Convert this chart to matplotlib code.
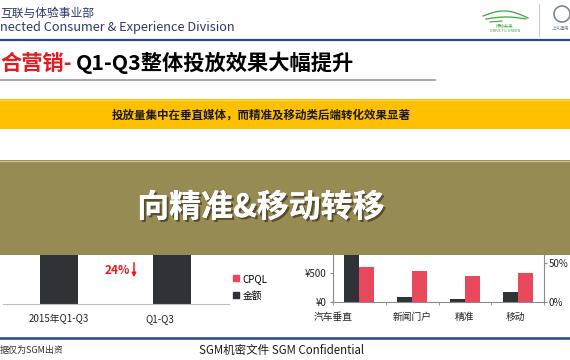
import numpy as np
import matplotlib
matplotlib.use("Agg")
import matplotlib.pyplot as plt
from matplotlib import patheffects as pe
from matplotlib.patches import Rectangle, Patch, Arc
from matplotlib.transforms import ScaledTranslation

plt.rcParams["font.family"] = ["Noto Sans CJK SC", "DejaVu Sans"]

# left chart: 2015 vs 2016 spend
cats_left = ["2015年Q1-Q3", "Q1-Q3"]
amount_left = [100, 76]

# right chart: by media type
cats_right = ["汽车垂直", "新闻门户", "精准", "移动"]
amount_right = [1100, 80, 55, 170]      # 金额, yuan
cpql_right = [45, 40, 33, 37]           # CPQL share, %

BLACK = "#2f3236"
PINK = "#e9475c"
RED = "#e8191e"
NAVY = "#2b3a6e"
BLUE_LINE = "#27478a"
OLIVE = "#968b53"
YELLOW = "#ffc000"
W, H = 570, 360


def px(x0, y0, x1, y1):
    return [x0 / W, 1 - y1 / H, (x1 - x0) / W, (y1 - y0) / H]


fig = plt.figure(figsize=(5.7, 3.6), dpi=100, facecolor="white")

# ---- left chart
ax1 = fig.add_axes(px(2.5, 200, 228.5, 304))
x1 = np.arange(len(cats_left))
ax1.bar(x1, amount_left, width=0.336, color=BLACK)
ax1.set_xlim(-0.5, len(cats_left) - 0.5)
ax1.set_ylim(0, 100)
ax1.set_facecolor("none")
for s in ["top", "left", "right"]:
    ax1.spines[s].set_visible(False)
ax1.spines["bottom"].set_color("#bdbdbd")
ax1.set_yticks([])
ax1.set_xticks(x1)
ax1.set_xticklabels(cats_left, fontsize=7, color="#222222")
ax1.tick_params(axis="x", length=0, pad=7)
lbl = ax1.get_xticklabels()[1]
lbl.set_transform(lbl.get_transform() + ScaledTranslation(-12 / 100, 0, fig.dpi_scale_trans))

# ---- right chart
ax2 = fig.add_axes(px(333, 225, 544, 302))
x2 = np.arange(len(cats_right))
bw = 0.285
ax2.bar(x2 - bw / 2, amount_right, width=bw, color=BLACK)
ax2.set_xlim(-0.5, len(cats_right) - 0.5)
ax2.set_ylim(0, 77 / 29 * 500)
ax2.set_yticks([0, 500, 1000])
ax2.set_yticklabels(["¥0", "¥500", "¥1000"], fontsize=7, color="#222222")
ax2.set_xticks(x2)
ax2.set_xticklabels(cats_right, fontsize=7, color="#222222")
ax2.set_xticks(np.arange(-0.5, len(cats_right), 1), minor=True)
ax2.tick_params(axis="x", which="major", length=0, pad=7)
ax2.tick_params(axis="x", which="minor", length=2.5, color="#888888")
ax2.tick_params(axis="y", length=2.5, pad=2, color="#888888")
for s in ["top", "right"]:
    ax2.spines[s].set_visible(False)
for s in ["left", "bottom"]:
    ax2.spines[s].set_color("#8a8a8a")
lbl = ax2.get_xticklabels()[0]
lbl.set_transform(lbl.get_transform() + ScaledTranslation(-26 / 100, 0, fig.dpi_scale_trans))
lbl = ax2.get_xticklabels()[3]
lbl.set_transform(lbl.get_transform() + ScaledTranslation(-2 / 100, 0, fig.dpi_scale_trans))

ax3 = ax2.twinx()
ax3.bar(x2 + bw / 2, cpql_right, width=bw, color=PINK)
ax3.set_ylim(0, 77 / 39 * 50)
ax3.set_yticks([0, 50])
ax3.set_yticklabels(["0%", "50%"], fontsize=7, color="#222222")
ax3.tick_params(axis="y", length=2.5, pad=1, color="#888888")
for s in ["top", "left", "bottom"]:
    ax3.spines[s].set_visible(False)
ax3.spines["right"].set_color("#8a8a8a")

fig.legend(
    [Patch(color=PINK), Patch(color=BLACK)],
    ["CPQL", "金额"],
    loc="center left",
    bbox_to_anchor=(233 / W, 1 - 287 / H),
    frameon=False,
    fontsize=7,
    handlelength=0.6,
    handleheight=0.6,
    handletextpad=0.4,
    labelspacing=0.7,
    borderpad=0,
    borderaxespad=0,
)

# ---- slide decoration overlay in pixel coordinates
ov = fig.add_axes([0, 0, 1, 1])
ov.set_xlim(0, W)
ov.set_ylim(H, 0)
ov.axis("off")
ov.patch.set_alpha(0)

# header
ov.text(0, 13, "互联与体验事业部", fontsize=8.5, color=NAVY, va="center", ha="left")
ov.text(0, 27, "nected Consumer & Experience Division", fontsize=9.2, color=NAVY,
        va="center", ha="left")
ov.plot([0, W], [39.5, 39.5], color=BLUE_LINE, lw=1.6)

# logos
t = np.linspace(0, 1, 30)
ov.plot(483 + 45 * t, 16 - 6 * np.sin(np.pi * t) + 2 * t, color="#3aa63a", lw=0.9)
ov.plot(486 + 40 * t, 19 - 2 * np.sin(np.pi * t), color="#3aa63a", lw=0.9)
ov.plot(490 + 12 * t, 22 - 1 * t, color="#3aa63a", lw=0.8)
ov.text(505, 26.5, "绿动未来", fontsize=3.2, color="#3aa63a", ha="center", va="center")
ov.text(505, 31, "DRIVE TO GREEN", fontsize=2.8, color="#3aa63a", ha="center", va="center")
ov.plot([539, 539], [4, 36], color="#c8c8c8", lw=0.7)
ov.add_patch(Arc((562, 14), 16, 16, color="#7b8696", lw=1.2))
ov.text(560, 28, "上汽通用", fontsize=3.2, color="#7b8696", ha="center", va="center")

# title
ov.text(0.5, 63, "合营销-", fontsize=15.3, color=RED, fontweight="bold", va="center", ha="left")
ov.text(76, 63, "Q1-Q3整体投放效果大幅提升", fontsize=15.3, color="black",
        fontweight="bold", va="center", ha="left")
ov.plot([0, 435], [79.5, 79.5], color="#9a9a9a", lw=1.2)

# yellow banner
ov.add_patch(Rectangle((0, 99), W, 30, color=YELLOW, lw=0))
ov.plot([0, W], [99.5, 99.5], color="#ffd75a", lw=0.8)
ov.text(261, 115, "投放量集中在垂直媒体，而精准及移动类后端转化效果显著", fontsize=8.3,
        fontweight="bold", color="#1a1a1a", ha="center", va="center")

# olive band covering chart tops
ov.add_patch(Rectangle((0, 160), W, 95, color=OLIVE, lw=0))
ov.plot([0, W], [160.5, 160.5], color="#c7bf8d", lw=1)
ov.text(261, 208, "向精准&移动转移", fontsize=23, fontweight="bold", color="white",
        ha="center", va="center",
        path_effects=[pe.withSimplePatchShadow(offset=(1.5, -1.5), shadow_rgbFace="#3b3620",
                                               alpha=0.7), pe.Normal()])

# change annotation
drop = (1 - amount_left[1] / amount_left[0]) * 100
ov.text(117, 270, f"{drop:.0f}%", fontsize=8.5, color=RED, fontweight="bold",
        ha="center", va="center")
ov.annotate("", xy=(134, 280), xytext=(134, 260),
            arrowprops=dict(arrowstyle="-|>", color=RED, lw=1.1, mutation_scale=6))

# footer
ov.plot([0, W], [337.5, 337.5], color=BLUE_LINE, lw=1.8)
ov.text(0, 350, "据仅为SGM出资", fontsize=6.5, color="#333333", ha="left", va="center")
ov.text(282, 350, "SGM机密文件 SGM Confidential", fontsize=8.3, color="#1a1a1a",
        ha="center", va="center")

fig.savefig("out.png", dpi=100)
